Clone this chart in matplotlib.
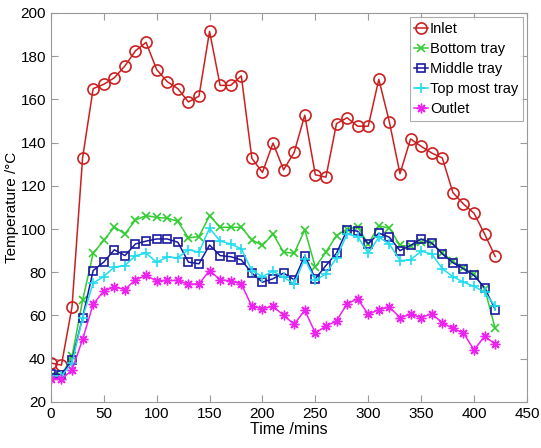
import matplotlib
matplotlib.use("Agg")
import matplotlib.pyplot as plt

plt.rcParams["font.family"] = ["Liberation Sans", "DejaVu Sans"]

time = list(range(0, 430, 10))
inlet = [38, 37, 64, 133, 165, 167, 170, 175.5, 182.5, 186.4, 173.8, 168.2, 165, 158.8, 161.5,
         191.5, 166.5, 166.5, 170.9, 132.7, 126.2, 139.8, 127.4, 135.5, 152.7, 125.1, 124, 148.8,
         151.5, 147.6, 147.6, 169.3, 149.5, 125.6, 141.7, 138.3, 135.2, 132.9, 116.9, 111.6,
         107.3, 97.7, 87.3]
bottom = [32, 32, 41, 67, 88.8, 94.7, 101, 97.7, 104.2, 106.2, 105.4, 105, 103.6, 95.9, 96.5,
          106.2, 100.8, 100.8, 100.8, 95, 92.4, 97.7, 89.3, 88.8, 99.6, 82.4, 89.3, 97, 100, 101,
          93.1, 101.5, 100.4, 92.4, 92, 94, 93.5, 89, 85, 82, 79, 72.4, 54]
middle = [33, 32.5, 39.4, 59, 80.8, 84.7, 90.4, 87.7, 93.1, 94.4, 95.4, 95.4, 93.9, 84.7, 83.9,
          92.6, 87.7, 87.2, 85.7, 79.6, 75.4, 77, 79.6, 76.5, 87.7, 77, 83.1, 88.8, 99.6, 99,
          93.1, 98.1, 96.2, 90, 92.4, 95.4, 93.5, 88.5, 84.4, 81.6, 78.5, 72.8, 62.7]
top = [32, 32, 38, 59, 75, 78, 82.4, 83.1, 87.7, 88.8, 84.7, 87, 86.7, 90.4, 89.3, 100.4, 94.4,
       93.1, 90.8, 80.8, 78, 80.5, 77.7, 74.6, 86.2, 76.2, 79.3, 86.7, 97.7, 96.5, 88.8, 96.2,
       93.1, 85.4, 85.7, 89.7, 88.5, 81.6, 78, 75.4, 73.5, 70.8, 64.2]
outlet = [30.6, 30.6, 34.7, 48.9, 65.2, 71.3, 73.2, 72, 76.5, 78.5, 76, 76.2, 76.2, 74.4, 74.6,
          80.8, 76.5, 76, 74.6, 64.2, 63.1, 64.2, 60.1, 55.9, 62.4, 51.9, 55, 57.5, 65.4, 67.7,
          60.5, 62.7, 63.9, 59, 60.5, 59, 60.8, 56.6, 54, 51.9, 44, 50.4, 46.7]

fig = plt.figure(figsize=(5.41, 4.48), dpi=100)
ax = fig.add_axes([0.094, 0.103, 0.880, 0.868])

ax.plot(time, inlet, color="#CC2020", marker="o", mfc="none", ms=8, mew=1.2, lw=1.1, label="Inlet")
ax.plot(time, bottom, color="#33CC33", marker="x", ms=6, mew=1.2, lw=1.1, label="Bottom tray")
ax.plot(time, middle, color="#1A1AA0", marker="s", mfc="none", ms=6, mew=1.2, lw=1.1, label="Middle tray")
ax.plot(time, top, color="#22DDEE", marker="+", ms=7, mew=1.2, lw=1.1, label="Top most tray")
ax.plot(time, outlet, color="#EE22EE", marker=(8, 2, 0), ms=7, mew=1.0, lw=1.1, label="Outlet")

ax.set_xlim(0, 450)
ax.set_ylim(20, 200)
ax.set_xticks(range(0, 451, 50))
ax.set_yticks(range(20, 201, 20))
ax.tick_params(direction="in", top=True, right=True, labelsize=11, length=5, color="#999999")
for s in ax.spines.values():
    s.set_color("#999999")
ax.set_xlabel("Time /mins", fontsize=11.5, labelpad=1)
ax.set_ylabel("Temperature /°C", fontsize=11, labelpad=1)

leg = ax.legend(loc="upper right", fontsize=10.5, handlelength=1.0, handletextpad=0.1,
                borderpad=0.3, labelspacing=0.42, fancybox=False, borderaxespad=0.3)
leg.get_frame().set_edgecolor("#999999")
leg.get_frame().set_linewidth(0.8)

fig.savefig("out.png", dpi=100, facecolor="white")
